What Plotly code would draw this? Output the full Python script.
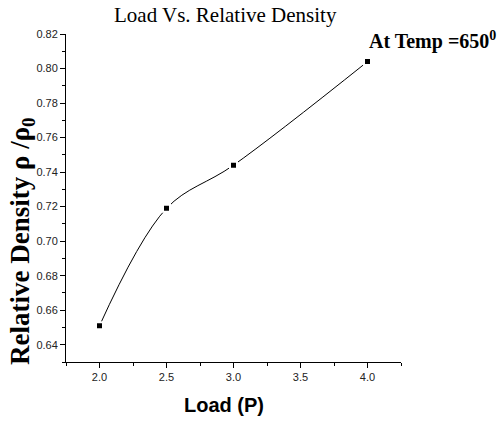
import plotly.graph_objects as go

load = [2.0, 2.5, 3.0, 4.0]
rel_density = [0.651, 0.719, 0.744, 0.804]

W, H = 499, 423
L, R, T, B = 66, 98, 34, 61
pw, ph = W - L - R, H - T - B

def px(xp):
    return (xp - L) / pw

def py(yp):
    return (H - B - yp) / ph

fig = go.Figure()
fig.add_trace(go.Scatter(
    x=load, y=rel_density, mode="lines+markers",
    line=dict(color="black", width=1, shape="spline", smoothing=1.0),
    marker=dict(symbol="square", size=7, color="black",
                line=dict(color="white", width=2)),
    showlegend=False, cliponaxis=False, hoverinfo="skip",
))

axis_common = dict(
    showline=True, linecolor="black", linewidth=1, mirror=False,
    showgrid=False, zeroline=False, ticks="outside", ticklen=5,
    tickcolor="black", tickwidth=1, automargin=False,
    tickfont=dict(family="Liberation Sans, Arial", size=11, color="#222"),
)

fig.update_xaxes(range=[1.75, 4.25], dtick=0.5, tick0=2.0, tickformat=".1f",
                 minor=dict(dtick=0.25, ticks="outside", ticklen=3, tickcolor="black"),
                 **axis_common)
fig.update_yaxes(range=[0.63, 0.82], dtick=0.02, tick0=0.64, tickformat=".2f",
                 minor=dict(dtick=0.01, ticks="outside", ticklen=3, tickcolor="black"),
                 **axis_common)

fig.update_layout(
    width=W, height=H,
    margin=dict(l=L, r=R, t=T, b=B, autoexpand=False),
    plot_bgcolor="white", paper_bgcolor="white",
    annotations=[
        dict(text="Load Vs. Relative Density", x=px(225), y=py(15),
             xref="paper", yref="paper", showarrow=False,
             xanchor="center", yanchor="middle",
             font=dict(family="Liberation Serif, Times New Roman", size=21, color="black")),
        dict(text="<b>At Temp =650<sup>0</sup></b>", x=px(367), y=py(40),
             xref="paper", yref="paper", showarrow=False,
             xanchor="left", yanchor="middle",
             font=dict(family="Liberation Serif, Times New Roman", size=20, color="black")),
        dict(text="<b>Relative Density ρ /ρ<sub>0</sub></b>", x=px(22), y=py(241),
             xref="paper", yref="paper", showarrow=False, textangle=-90,
             xanchor="center", yanchor="middle",
             font=dict(family="Liberation Serif, Times New Roman", size=27, color="black")),
        dict(text="<b>Load (P)</b>", x=px(224), y=py(405),
             xref="paper", yref="paper", showarrow=False,
             xanchor="center", yanchor="middle",
             font=dict(family="Liberation Sans, Arial", size=20, color="black")),
    ],
)

fig.write_html("out.html", config={"displayModeBar": False},
               post_script="document.body.style.margin='0';document.body.style.overflow='hidden';")
